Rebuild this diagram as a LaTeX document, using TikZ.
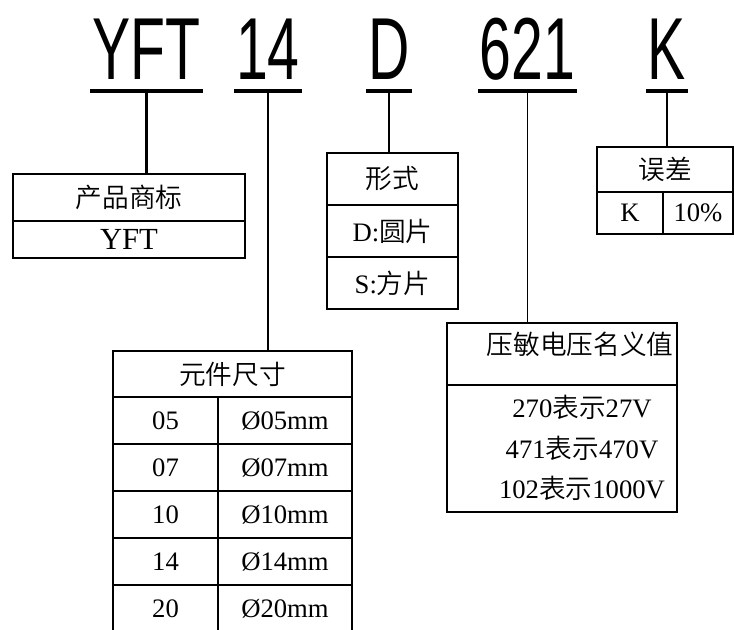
\documentclass[tikz,border=0pt]{standalone}
\usepackage{fontspec}
\setmainfont{Liberation Serif}
\newfontfamily\cjk[UprightFont = * DemiLight]{Noto Sans CJK SC}
\newfontfamily\codefont[FakeStretch = 0.65]{Liberation Sans}
\begin{document}
\begin{tikzpicture}[x = 0.75pt, y = -0.75pt,
        code/.style = {inner xsep = 1.5pt, inner ysep = 0pt, anchor = base, font = \codefont\fontsize{66pt}{70pt}\selectfont},
        cell/.style = {draw, line width = 0.8pt, inner sep = 0pt, outer sep = 0pt, anchor = north west, font = \fontsize{20pt}{24pt}\selectfont},
        entry/.style = {inner sep = 0pt, font = \fontsize{20pt}{24pt}\selectfont},
        stem/.style = {line width = 2pt},
        thinstem/.style = {line width = 1pt}]
        \useasboundingbox (0,0) rectangle (734,630);
        \node[code] (cyft) at (146.5,80) {YFT};
        \node[code] (csize) at (268,80) {14};
        \node[code] (cform) at (389,80) {D};
        \node[code] (cvolt) at (527.5,80) {621};
        \node[code] (ctol) at (667,80) {K};
        \begin{scope}[style = {line width = 2.5pt}]
            \draw ([yshift = -8.25pt]cyft.base west) -- ([yshift = -8.25pt]cyft.base east);
            \draw ([yshift = -8.25pt]csize.base west) -- ([yshift = -8.25pt]csize.base east);
            \draw ([yshift = -8.25pt]cform.base west) -- ([yshift = -8.25pt]cform.base east);
            \draw ([yshift = -8.25pt]cvolt.base west) -- ([yshift = -8.25pt]cvolt.base east);
            \draw ([yshift = -8.25pt]ctol.base west) -- ([yshift = -8.25pt]ctol.base east);
        \end{scope}
        \node[cell, minimum width = 174pt, minimum height = 35.25pt] (brand) at (13,174) {\cjk 产品商标};
        \node[cell, minimum width = 174pt, minimum height = 27.75pt, font = \fontsize{23pt}{26pt}\selectfont] (brandval) at (brand.south west) {YFT};
        \node[cell, minimum width = 98.25pt, minimum height = 39pt] (form) at (327,153) {\cjk 形式};
        \node[cell, minimum width = 98.25pt, minimum height = 39pt] (formd) at (form.south west) {D:{\cjk 圆片}};
        \node[cell, minimum width = 98.25pt, minimum height = 39pt] (forms) at (formd.south west) {S:{\cjk 方片}};
        \node[cell, minimum width = 102pt, minimum height = 33.75pt] (tol) at (597,147) {\cjk 误差};
        \node[cell, minimum width = 49.5pt, minimum height = 31.5pt] (tolk) at (tol.south west) {K};
        \node[cell, minimum width = 52.5pt, minimum height = 31.5pt] (tolval) at (tolk.north east) {10\%};
        \node[cell, minimum width = 179.25pt, minimum height = 34.5pt] (size) at (113,351) {\cjk 元件尺寸};
        \node[cell, minimum width = 78.75pt, minimum height = 35.25pt] (s05) at (size.south west) {05};
        \node[cell, minimum width = 100.5pt, minimum height = 35.25pt] (d05) at (s05.north east) {Ø05mm};
        \node[cell, minimum width = 78.75pt, minimum height = 35.25pt] (s07) at (s05.south west) {07};
        \node[cell, minimum width = 100.5pt, minimum height = 35.25pt] (d07) at (s07.north east) {Ø07mm};
        \node[cell, minimum width = 78.75pt, minimum height = 35.25pt] (s10) at (s07.south west) {10};
        \node[cell, minimum width = 100.5pt, minimum height = 35.25pt] (d10) at (s10.north east) {Ø10mm};
        \node[cell, minimum width = 78.75pt, minimum height = 35.25pt] (s14) at (s10.south west) {14};
        \node[cell, minimum width = 100.5pt, minimum height = 35.25pt] (d14) at (s14.north east) {Ø14mm};
        \node[cell, minimum width = 78.75pt, minimum height = 35.25pt] (s20) at (s14.south west) {20};
        \node[cell, minimum width = 100.5pt, minimum height = 35.25pt] (d20) at (s20.north east) {Ø20mm};
        \node[cell, minimum width = 172.5pt, minimum height = 46.5pt] (volt) at (447,323) {};
        \node[cell, minimum width = 172.5pt, minimum height = 95.25pt] (voltval) at (volt.south west) {};
        \node[entry] (vhead) at (580,344) {\cjk 压敏电压名义值};
        \node[entry] (v270) at (582,407) {270{\cjk 表示}27V};
        \node[entry] (v471) at (582,448) {471{\cjk 表示}470V};
        \node[entry] (v102) at (582,488) {102{\cjk 表示}1000V};
        \draw[stem] ([yshift = -8.25pt]cyft.base) -- (cyft.base |- brand.north);
        \draw[thinstem] ([yshift = -8.25pt]csize.base) -- (csize.base |- size.north);
        \draw[stem] ([yshift = -8.25pt]cform.base) -- (cform.base |- form.north);
        \draw[thinstem] ([yshift = -8.25pt]cvolt.base) -- (cvolt.base |- volt.north);
        \draw[stem] ([yshift = -8.25pt]ctol.base) -- (ctol.base |- tol.north);
    \end{tikzpicture}
\end{document}
